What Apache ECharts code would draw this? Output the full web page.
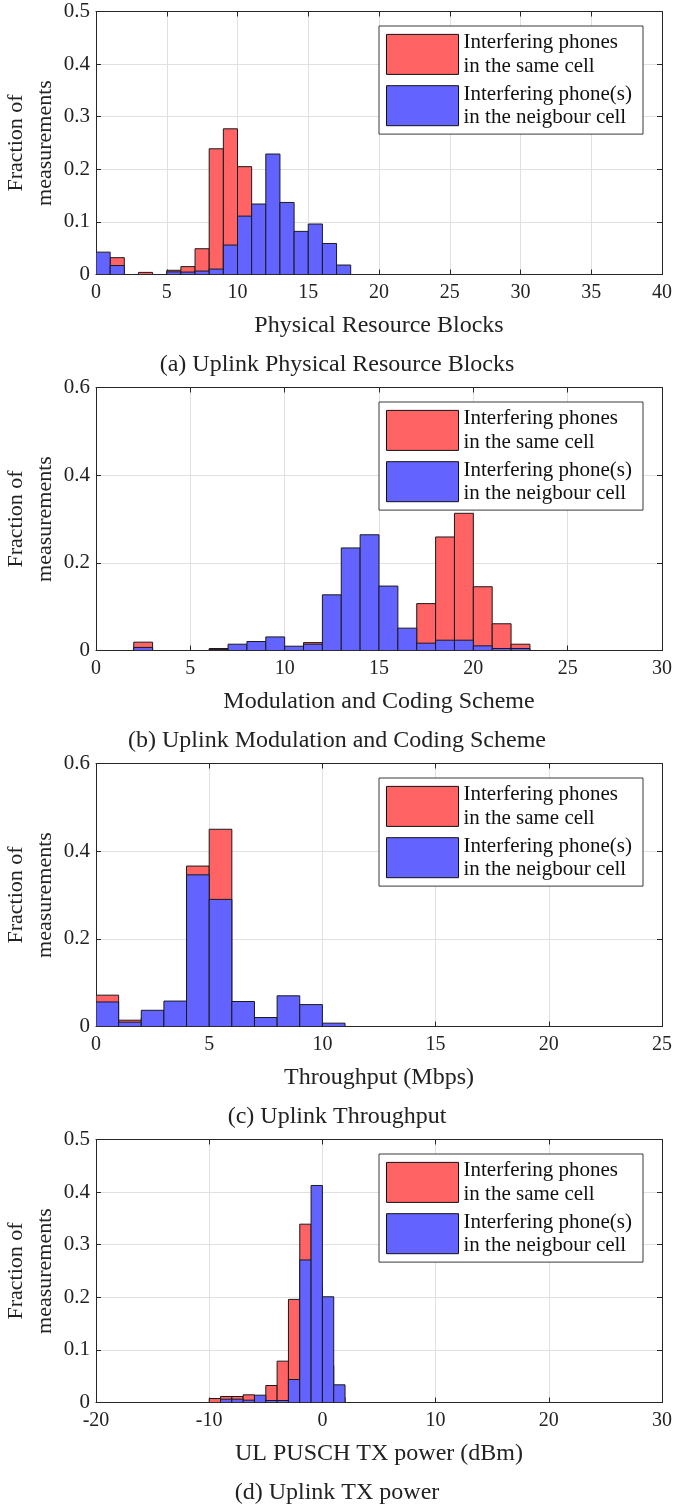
<!DOCTYPE html>
<html>
<head>
<meta charset="utf-8">
<script src="https://cdn.jsdelivr.net/npm/echarts@6/dist/echarts.min.js"></script>
<style>
html,body{margin:0;padding:0;background:#fff;}
#chart{width:674px;height:1506px;}
</style>
</head>
<body>
<div id="chart"></div>
<script>
// ---------- DATA (bin start values, bin width 1) ----------
const seriesNames = ['Interfering phones\nin the same cell', 'Interfering phone(s)\nin the neigbour cell'];

const prbBins = [0,1,2,3,4,5,6,7,8,9,10,11,12,13,14,15,16,17];
const prbSame = [0.03,0.032,0,0.004,0,0.008,0.015,0.049,0.239,0.277,0.205,0.08,0.04,0.015,0.005,0,0,0];
const prbNeighbour = [0.0425,0.017,0,0,0,0.005,0.0046,0.0065,0.0103,0.056,0.111,0.134,0.229,0.137,0.082,0.096,0.059,0.018];

const mcsBins = [0,1,2,3,4,5,6,7,8,9,10,11,12,13,14,15,16,17,18,19,20,21,22];
const mcsSame = [0,0,0.019,0,0,0,0.0045,0,0,0,0,0.018,0.005,0.008,0.01,0.015,0.02,0.107,0.259,0.313,0.1455,0.061,0.0144];
const mcsNeighbour = [0,0,0.007,0,0,0,0.002,0.0144,0.0205,0.031,0.0098,0.0144,0.127,0.234,0.264,0.147,0.051,0.0167,0.0235,0.0235,0.0106,0.0045,0.0045];

const tputBins = [0,1,2,3,4,5,6,7,8,9,10];
const tputSame = [0.0715,0.0144,0.02,0.03,0.366,0.45,0.03,0.01,0.01,0,0];
const tputNeighbour = [0.056,0.0099,0.037,0.058,0.346,0.29,0.057,0.0205,0.07,0.05,0.0076];

const txBins = [-10,-9,-8,-7,-6,-5,-4,-3,-2,-1,0,1];
const txSame = [0.0076,0.0114,0.0114,0.0146,0.01,0.0323,0.0786,0.196,0.339,0.22,0.07,0.01];
const txNeighbour = [0,0.0063,0.0063,0.0044,0.0139,0.0038,0.0038,0.0437,0.271,0.4126,0.201,0.0336];

const xTitles = ['Physical Resource Blocks','Modulation and Coding Scheme','Throughput (Mbps)','UL PUSCH TX power (dBm)'];
const captions = ['(a) Uplink Physical Resource Blocks','(b) Uplink Modulation and Coding Scheme','(c) Uplink Throughput','(d) Uplink TX power'];
const xMin = [0,0,0,-20], xMax = [40,30,25,30], xInterval = [5,5,5,10];
const yMax = [0.5,0.6,0.6,0.5], yInterval = [0.1,0.2,0.2,0.1];

const panels = [
  [prbBins, prbSame, prbNeighbour],
  [mcsBins, mcsSame, mcsNeighbour],
  [tputBins, tputSame, tputNeighbour],
  [txBins, txSame, txNeighbour]
];

// ---------- STYLE ----------
const FONT = "'Liberation Serif','Times New Roman',serif";
const AX = '#262626';
const RED = '#ff6363', BLUE = '#6363ff';
const GRID_TOP0 = 11.5, STEP = 376, PLOT_H = 263;

function renderBin(params, api) {
  const x0 = api.value(0), x1 = api.value(1), v = api.value(2);
  if (!v) return;
  const p0 = api.coord([x0, 0]);
  const p1 = api.coord([x1, v]);
  return {
    type: 'rect',
    shape: { x: p0[0], y: p1[1], width: p1[0] - p0[0], height: p0[1] - p1[1] },
    style: { fill: api.visual('color'), stroke: '#1a1a1a', lineWidth: 1 }
  };
}

const grid = [], xAxis = [], yAxis = [], series = [], legend = [], title = [];
for (let i = 0; i < 4; i++) {
  const top = GRID_TOP0 + STEP * i;
  grid.push({ left: 96, top: top, width: 566, height: PLOT_H, containLabel: false, outerBoundsMode: 'none' });
  const baseX = {
    type: 'value', gridIndex: i, min: xMin[i], max: xMax[i], interval: xInterval[i],
    axisLine: { show: true, onZero: false, lineStyle: { color: AX, width: 1 } },
    axisTick: { show: true, inside: true, length: 5, lineStyle: { color: AX } }
  };
  xAxis.push(Object.assign({}, baseX, {
    position: 'bottom',
    axisLabel: { fontFamily: FONT, fontSize: 20, color: '#222', margin: 8 },
    splitLine: { show: true, lineStyle: { color: '#e0e0e0', width: 1 } },
    name: xTitles[i], nameLocation: 'middle', nameGap: 39, nameMoveOverlap: false,
    nameTextStyle: { fontFamily: FONT, fontSize: 24, color: '#222' }
  }));
  xAxis.push(Object.assign({}, baseX, {
    position: 'top', axisLabel: { show: false }, splitLine: { show: false }
  }));
  const baseY = {
    type: 'value', gridIndex: i, min: 0, max: yMax[i], interval: yInterval[i],
    axisLine: { show: true, onZero: false, lineStyle: { color: AX, width: 1 } },
    axisTick: { show: true, inside: true, length: 5, lineStyle: { color: AX } }
  };
  yAxis.push(Object.assign({}, baseY, {
    position: 'left',
    axisLabel: { fontFamily: FONT, fontSize: 21, color: '#222', margin: 6 },
    splitLine: { show: true, lineStyle: { color: '#e0e0e0', width: 1 } },
    name: 'Fraction of\nmeasurements', nameLocation: 'middle', nameGap: 36, nameMoveOverlap: false,
    nameTextStyle: { fontFamily: FONT, fontSize: 22, color: '#222', lineHeight: 29 }
  }));
  yAxis.push(Object.assign({}, baseY, {
    position: 'right', axisLabel: { show: false }, splitLine: { show: false }
  }));

  const [bins, same, neigh] = panels[i];
  series.push({
    type: 'custom', name: seriesNames[0], xAxisIndex: 2 * i, yAxisIndex: 2 * i,
    renderItem: renderBin, itemStyle: { color: RED }, encode: { x: [0, 1], y: 2 },
    data: bins.map((b, k) => [b, b + 1, same[k]]), clip: true, z: 2
  });
  series.push({
    type: 'custom', name: seriesNames[1], xAxisIndex: 2 * i, yAxisIndex: 2 * i,
    renderItem: renderBin, itemStyle: { color: BLUE }, encode: { x: [0, 1], y: 2 },
    data: bins.map((b, k) => [b, b + 1, neigh[k]]), clip: true, z: 3
  });

  legend.push({
    orient: 'vertical', left: 379, top: top + 14.5,
    data: seriesNames, icon: 'rect', itemWidth: 72, itemHeight: 40, itemGap: 4.5,
    padding: [5, 11, 5, 7], backgroundColor: '#fff', borderColor: '#3a3a3a', borderWidth: 1,
    itemStyle: { borderColor: '#111', borderWidth: 1 },
    textStyle: { fontFamily: FONT, fontSize: 21, color: '#111', lineHeight: 23.4 },
    selectedMode: false
  });

  title.push({
    text: captions[i], left: 'center', top: top + 336,
    textStyle: { fontFamily: FONT, fontSize: 24, fontWeight: 'normal', color: '#222' }
  });
}

const chart = echarts.init(document.getElementById('chart'), null, { renderer: 'canvas', width: 674, height: 1506 });
chart.setOption({ animation: false, backgroundColor: '#fff', title, grid, xAxis, yAxis, legend, series });
</script>
</body>
</html>
